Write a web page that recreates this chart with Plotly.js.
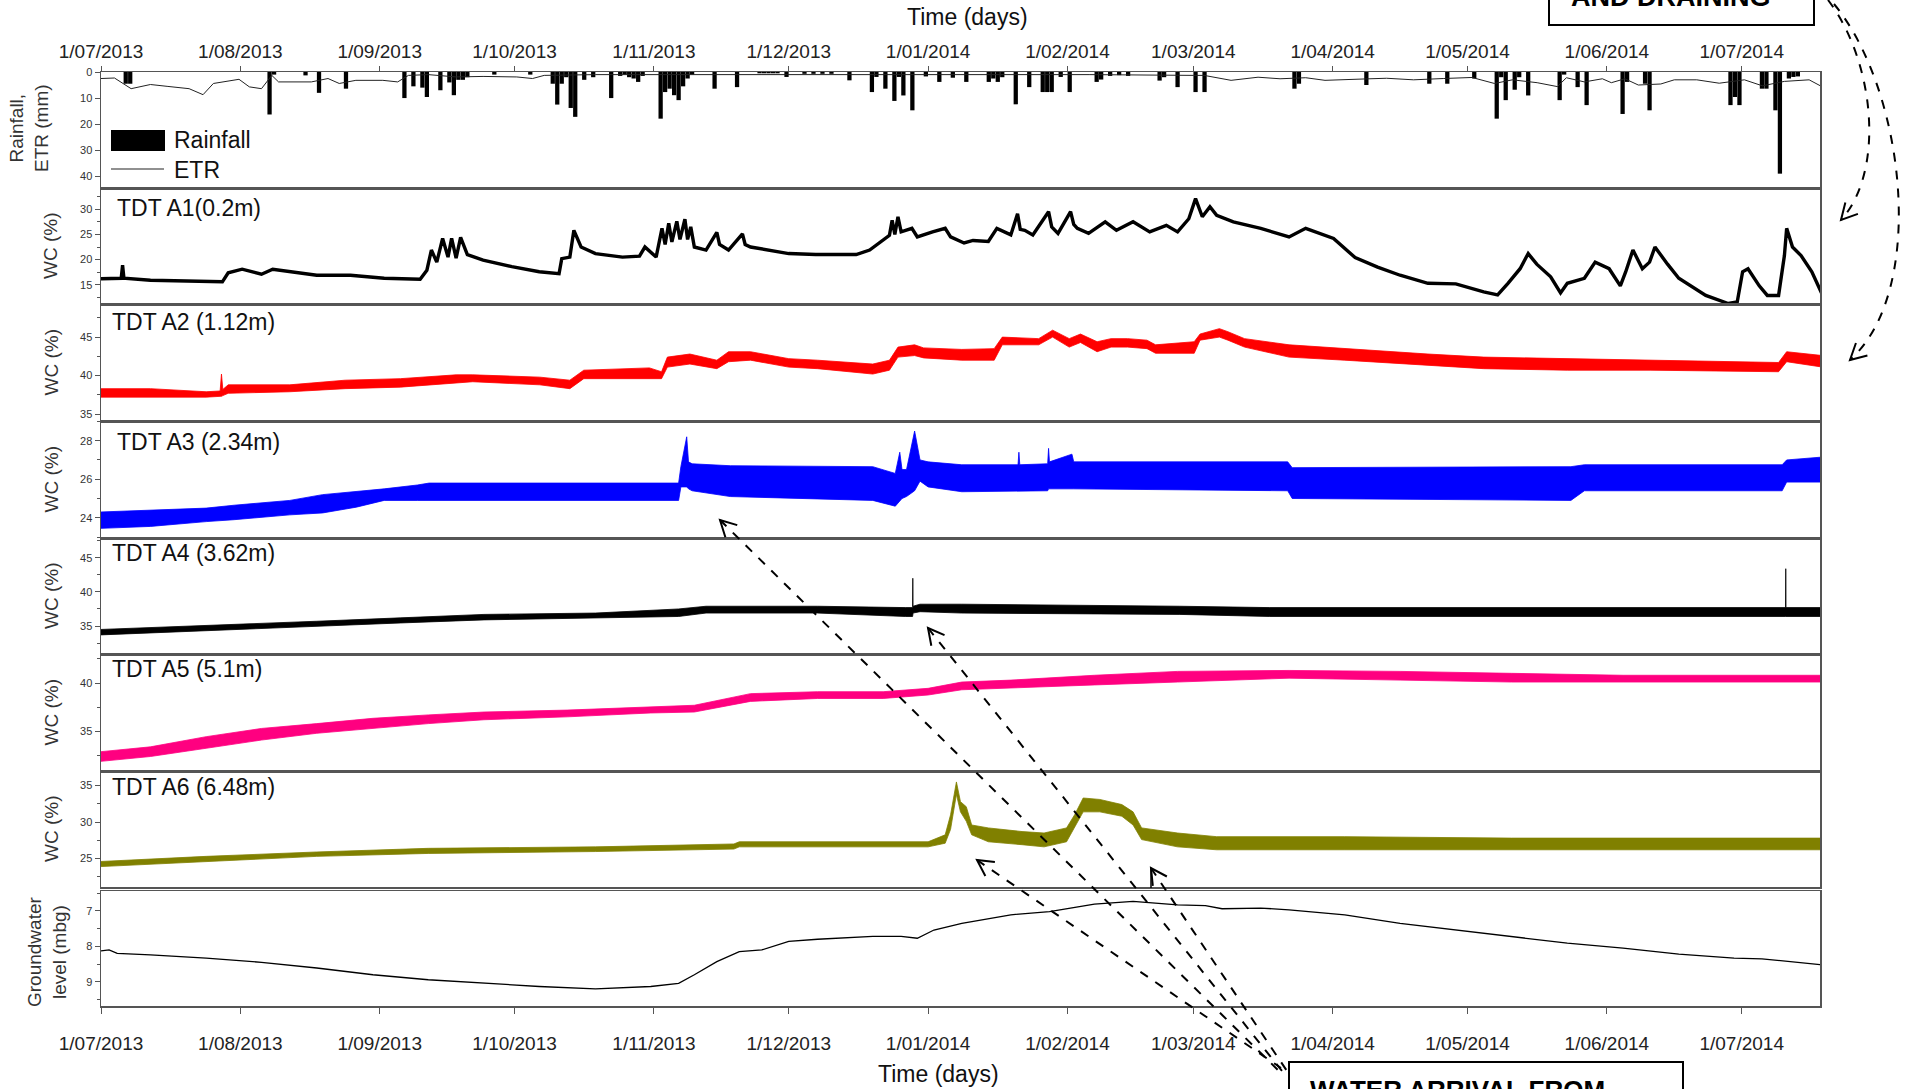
<!DOCTYPE html>
<html><head><meta charset="utf-8">
<script src="https://cdn.plot.ly/plotly-3.0.1.min.js"></script>
<style>html,body{margin:0;padding:0;background:#fff}#chart{width:1913px;height:1089px}</style>
</head><body><div id="chart"></div>
<script>
// ---------- DATA (time in days since 1/07/2013) ----------
const startDate = '2013-07-01';
const endDate = '2014-07-18 10:00';

const rainDay = [5,6,37,38,45,48,54,67,69,71,72,75,77,78,79,80,81,87,95,100,101,102,103,104,105,107,109,113,115,116,117,118,119,120,124,125,126,127,128,129,130,131,136,141,146,147,148,149,150,152,156,158,160,162,166,171,172,174,176,177,178,180,183,186,189,192,197,198,199,200,203,206,209,210,211,213,215,221,222,224,226,228,235,236,239,243,245,265,266,281,295,299,305,310,311,312,314,315,317,324,325,328,330,338,339,343,344,362,363,364,369,370,372,373,375,376,377];
const rainMm = [4.5,4.5,16.3,1.0,1.3,8.0,6.4,10.0,5.5,6.0,9.6,7.0,4.0,8.9,3.0,3.0,2.0,1.0,1.0,4.5,12.5,4.5,2.0,13.8,17.2,3.0,2.0,10.0,1.5,1.0,2.0,2.5,3.8,1.5,17.9,7.7,6.4,8.9,10.8,5.5,2.5,1.0,6.4,5.8,0.5,0.5,0.5,0.5,0.5,1.9,0.7,0.7,0.7,0.7,3.2,7.7,1.9,6.4,11.1,1.9,9.0,14.7,1.7,3.8,2.2,3.8,3.8,2.5,3.8,2.0,12.4,5.8,7.7,7.7,7.7,1.9,7.7,3.8,2.9,1.5,1.2,1.5,3.3,2.0,5.8,7.7,7.7,6.4,4.5,5.0,4.5,4.5,2.5,17.9,2.0,10.8,6.8,2.0,9.0,10.8,1.0,5.8,12.7,16.1,3.8,4.5,14.7,12.7,9.6,12.7,6.4,6.4,14.7,39.0,2.5,1.9,1.7];

const etrDay = [0,3,6.7,11,14.7,19.6,22.7,25,30.7,33,35.7,38,39.5,46.8,50.5,53,56.7,62.7,66,68.4,72.8,79,85,92.5,96,98.6,110,130,160,190,220,243,245.4,251.4,257.4,262.3,268,272.3,278.3,282.3,286,292,298.6,305,310,314,319.5,324,326,330,334,336,339,342,347,350,355,360,365.6,369.6,374.5,380,382.5];
const etrMm = [2.5,2.3,6.4,4.8,5.5,6.4,8.7,4.4,2.8,5.7,6.4,1.3,3.8,3.8,2.5,4.4,3.2,3.2,3.8,1.3,1.0,1.9,1.7,1.9,2.5,1.3,1.0,1.0,1.0,1.1,1.0,1.3,1.3,3.2,2.0,2.6,2.2,3.2,3.0,2.6,2.4,3.0,2.5,2.1,4.4,3.0,4.1,5.6,2.2,3.8,2.6,4.1,2.6,5.0,4.6,3.0,3.0,4.3,3.0,5.3,3.6,3.0,5.3];

const a1Day = [0,4.5,4.8,5.1,11,27,28.3,31.4,35.7,38.2,48,55.5,63,71,72.5,73.5,74.7,76,77.2,78,79,80,81.5,85,91.4,97.5,101.9,102.5,104.3,105.2,106.8,110,116,119.8,121,123.5,124.8,125.5,126.3,127,128.1,128.8,129.9,130.5,131.2,132,134.6,137,137.6,139.6,142.7,143.3,144.5,153,159,168,171,175.4,176,176.6,177.3,178,180.4,181.6,185,187.8,189,192,194,197.4,199.3,202.4,203.9,204.5,205.5,207.3,210.8,211.5,212.9,215.7,216.4,217.2,219.7,223.4,225.9,229.6,233.3,237,239.5,242,243.5,245,246.7,248.2,251.9,258,264.3,268,274.2,279,284,289,295.2,301.4,307.6,310.7,313,315.7,317.5,319.4,322.5,324.7,326.2,330,332.4,335.5,338,339.2,340.8,342.9,344.5,345.7,348.5,351,357,362,364,365.2,366.4,368.9,370.7,373.2,374.5,375,376.3,378.2,380.6,383];
const a1WC = [16.2,16.3,18.9,16.3,15.9,15.6,17.4,18.1,17.1,18.1,16.9,16.9,16.3,16.1,17.9,21.9,19.5,24.2,20.5,24.2,20.3,24.4,21.0,19.9,18.6,17.6,17.2,20.2,20.5,25.8,22.5,21.2,20.5,20.7,22.5,20.5,26.2,23.0,27.2,23.5,27.6,24.0,28.0,24.0,26.5,22.5,21.9,25.4,23.0,21.9,25.1,23.0,22.5,21.2,21.0,21.0,21.9,24.8,27.8,25.0,28.5,25.5,26.2,24.5,25.5,26.2,24.5,23.3,23.8,23.6,26.2,24.9,29.1,26.0,25.8,24.9,29.5,26.5,25.2,29.5,27.0,26.2,25.2,27.5,25.8,27.5,25.5,26.8,25.5,28.1,32.1,28.5,30.5,28.8,27.5,26.2,24.5,26.2,24.2,20.4,18.5,16.9,15.3,15.2,13.6,13.0,15.3,18.2,21.2,19.1,16.6,13.4,15.3,16.3,19.5,18.2,14.8,17.6,21.9,18.2,19.5,22.5,19.1,16.3,12.9,11.3,11.6,17.6,18.2,14.8,12.9,12.9,20.8,26.2,22.5,20.8,17.6,12.9];

const a2Day = [0,11,23.4,26.5,26.8,27.1,28.3,42,54.3,66.6,79,82.7,97.6,104.3,107.4,122,124.7,126,131,137,139.6,144.5,153,159.4,171.7,175.4,177.3,181,183,191.5,198.7,200.5,208.6,211.7,215.4,217.9,221.6,224.7,228.4,232.7,234.6,243.2,244.5,248.8,250.7,254.4,264.3,276.7,295.2,307.6,326.2,344.8,373.2,375,383];
const a2Low = [37.2,37.2,37.2,37.3,37.3,37.4,37.7,37.9,38.3,38.5,39.0,39.2,38.8,38.3,39.6,39.6,39.6,41.1,41.5,40.9,41.8,42.0,41.1,40.9,40.2,40.7,42.4,42.6,42.3,42.0,42.0,44.0,44.0,45.0,43.7,44.3,43.1,43.7,43.7,43.5,42.9,42.9,44.6,45.0,44.6,43.7,42.4,42.0,41.3,40.9,40.7,40.7,40.5,41.8,41.1];
const a2High = [38.3,38.3,37.9,38.0,40.2,38.2,38.8,38.8,39.4,39.6,40.1,40.1,39.8,39.4,40.7,41.0,40.5,42.4,42.8,42.0,43.1,43.1,42.2,42.0,41.5,42.0,43.7,44.0,43.6,43.4,43.5,45.0,44.8,45.9,44.8,45.4,44.4,44.8,44.8,44.6,44.0,44.4,45.4,46.1,45.7,44.8,44.0,43.5,42.8,42.4,42.2,42.0,41.7,43.1,42.6];

const a3Day = [0,11,23.4,29.6,42,49.3,56.8,63,70.4,73,128.5,129,130.3,130.7,131.5,140,171.7,176.7,177.7,178.2,179.2,181,182.2,184,191.5,204,204.2,204.4,210.6,210.8,211,216,216.4,264,265,327,330,374,375,383];
const a3Low = [23.45,23.55,23.8,23.9,24.15,24.25,24.55,24.9,24.9,24.9,24.9,25.6,25.6,25.5,25.4,25.1,24.9,24.6,24.9,25.0,25.1,25.4,25.9,25.6,25.35,25.4,25.4,25.4,25.4,25.5,25.5,25.5,25.5,25.4,25.0,24.9,25.4,25.4,25.85,25.85];
const a3High = [24.3,24.4,24.5,24.65,24.9,25.2,25.35,25.5,25.7,25.8,25.8,26.65,28.2,26.9,26.8,26.7,26.65,26.3,27.4,26.5,26.5,28.5,27.0,26.9,26.75,26.75,27.4,26.75,26.8,27.6,26.9,27.3,26.9,26.9,26.6,26.65,26.75,26.75,27.0,27.15];

const a4Day = [0,11,29.6,48,66.7,85.2,110,128.5,134.6,159.4,179,180.55,180.6,180.65,182.2,191.5,240,260,374.75,374.8,374.85,383];
const a4Low = [33.7,34.0,34.5,34.95,35.45,35.9,36.16,36.4,36.9,36.9,36.4,36.4,36.6,36.9,37.1,36.9,36.7,36.4,36.4,36.4,36.4,36.4];
const a4High = [34.5,34.75,35.25,35.7,36.2,36.7,36.9,37.5,37.9,37.9,37.7,37.7,42.0,37.9,38.2,38.2,37.9,37.7,37.7,43.4,37.7,37.7];

const a5Day = [0,11,23.4,35.7,48,60.5,72.8,85.2,103.7,122.3,132,144.5,159.4,174,184,191.5,202.4,221,239.5,264.3,289,313.8,338.6,383];
const a5Low = [31.9,32.4,33.25,34.1,34.8,35.3,35.8,36.2,36.5,36.9,37.0,38.1,38.4,38.4,38.76,39.3,39.5,39.8,40.1,40.5,40.3,40.1,40.1,40.1];
const a5High = [32.9,33.4,34.45,35.3,35.8,36.35,36.7,37.0,37.2,37.55,37.7,38.9,39.1,39.1,39.45,40.1,40.3,40.8,41.2,41.3,41.2,41.0,40.8,40.8];

const a6Day = [0,23.4,48,72.8,110,140.8,142,184,187.8,189,190.3,191.2,192.5,193.7,197.4,204.9,209.8,214.8,216.6,218.5,222.2,227.1,229.6,231.5,239.5,248.2,276.7,313.8,383];
const a6Low = [23.9,24.6,25.3,25.7,25.96,26.3,26.6,26.6,27.1,29.0,33.8,31.4,30.1,28.25,27.3,26.9,26.6,27.3,29.2,31.4,31.4,30.8,29.6,27.6,26.6,26.2,26.2,26.2,26.2];
const a6High = [24.6,25.3,25.9,26.4,26.6,27.0,27.3,27.3,28.25,31.0,35.5,32.8,32.1,29.6,29.2,28.7,28.5,29.2,31.0,33.3,33.1,32.4,31.4,29.2,28.5,28.0,28.0,27.8,27.8];

const gwDay = [0,1.8,3.6,11,23.4,35.7,48,60.5,72.8,85.2,97.5,110,116,122.3,128.5,132,137,142,147,153,159.4,171.7,178,181.6,185.3,191.5,202.4,211,221,229.6,239.5,245.7,249.4,258,264.3,276.7,289,301.4,313.8,326.2,338.6,351,363.3,369.5,383];
const gwLevel = [8.13,8.1,8.2,8.24,8.33,8.45,8.61,8.8,8.94,9.04,9.13,9.2,9.17,9.13,9.04,8.8,8.43,8.15,8.1,7.86,7.8,7.72,7.72,7.77,7.54,7.35,7.11,7.02,6.81,6.73,6.83,6.85,6.94,6.92,6.97,7.11,7.35,7.54,7.72,7.91,8.05,8.22,8.33,8.35,8.52];

const panelLabels = ['TDT A1(0.2m)','TDT A2 (1.12m)','TDT A3 (2.34m)','TDT A4 (3.62m)','TDT A5 (5.1m)','TDT A6 (6.48m)'];

// ---------- helpers ----------
const T0 = Date.UTC(2013,6,1), DAY = 86400000;
const toDate = d => new Date(T0 + d*DAY).toISOString().replace('T',' ').slice(0,19);
const dates = arr => arr.map(toDate);

const W=1913, H=1089, L=101, R=1820, TOP=72, BOT=1006;
const px = x => (x-L)/(R-L);
const py = y => (BOT-y)/(BOT-TOP);
const panels = [[72,188],[188,304],[304,421],[421,538],[538,654],[654,771],[771,887],[891,1006]];

const FONT = 'Arial, "Liberation Sans", Helvetica, sans-serif';

// ---------- traces ----------
const data = [];
data.push({type:'bar', x: rainDay.map(d=>toDate(d+0.5)), y: rainMm, width: DAY*0.95,
  marker:{color:'#000', line:{width:0}}, xaxis:'x', yaxis:'y', hoverinfo:'skip'});
data.push({type:'scatter', mode:'lines', x: dates(etrDay), y: etrMm,
  line:{color:'#222', width:1}, xaxis:'x', yaxis:'y'});
data.push({type:'scatter', mode:'lines', x: dates(a1Day), y: a1WC,
  line:{color:'#000', width:3.4}, xaxis:'x2', yaxis:'y2'});

function band(days, lo, hi, color, xa, ya){
  data.push({type:'scatter', mode:'lines', x: dates(days), y: lo, line:{color, width:0.8}, xaxis:xa, yaxis:ya});
  data.push({type:'scatter', mode:'lines', x: dates(days), y: hi, line:{color, width:0.8}, fill:'tonexty', fillcolor:color, xaxis:xa, yaxis:ya});
}
band(a2Day, a2Low, a2High, '#ff0000', 'x3', 'y3');
band(a3Day, a3Low, a3High, '#0000ff', 'x4', 'y4');
band(a4Day, a4Low, a4High, '#000000', 'x5', 'y5');
band(a5Day, a5Low, a5High, '#ff0080', 'x6', 'y6');
band(a6Day, a6Low, a6High, '#808000', 'x7', 'y7');
data.push({type:'scatter', mode:'lines', x: dates(gwDay), y: gwLevel,
  line:{color:'#000', width:1.3}, xaxis:'x8', yaxis:'y8'});

// ---------- layout ----------
const layout = {
  width: W, height: H, autosize:false, showlegend:false,
  margin:{l:L, r:W-R, t:TOP, b:H-BOT, pad:0},
  paper_bgcolor:'#fff', plot_bgcolor:'#fff',
  font:{family:FONT, color:'#222'},
  annotations:[], shapes:[]
};
const line = {showline:true, linecolor:'#555', linewidth:1.5, mirror:true, zeroline:false, showgrid:false};
const yInfo = [
  {range:[44.5,0], tickvals:[0,10,20,30,40]},
  {range:[11.2,34.2], dtick:5, tick0:0, minor:2.5},
  {range:[34.1,49.3], dtick:5, tick0:0, minor:2.5},
  {range:[22.95,29.02], dtick:2, tick0:0, minor:1},
  {range:[30.9,47.9], dtick:5, tick0:0, minor:2.5},
  {range:[30.9,43.0], dtick:5, tick0:0, minor:2.5},
  {range:[21.1,37.0], dtick:5, tick0:0, minor:2.5},
  {range:[9.68,6.44], dtick:1, tick0:0, minor:0.5}
];
for (let i=0;i<8;i++){
  const k = i===0 ? '' : String(i+1);
  const [top,bot] = panels[i];
  const xa = Object.assign({}, line, {
    type:'date', range:[startDate, endDate], anchor:'y'+k, dtick:'M1', tick0:startDate,
    tickformat:'%-d/%m/%Y', tickfont:{size:19, family:FONT, color:'#222'},
    ticks:'', showticklabels:false, fixedrange:true
  });
  if (i>0) xa.matches = 'x';
  if (i===0){ xa.side='top'; xa.ticks='outside'; xa.ticklen=5; xa.tickcolor='#555'; xa.showticklabels=true; }
  if (i===7){ xa.side='bottom'; xa.ticks='outside'; xa.ticklen=6; xa.tickcolor='#555'; xa.showticklabels=true; xa.ticklabelstandoff=14; }
  layout['xaxis'+k] = xa;
  const yi = yInfo[i];
  const ya = Object.assign({}, line, {
    domain:[py(bot), py(top)], anchor:'x'+k, range:yi.range, ticks:'outside', ticklen:5, tickcolor:'#555',
    tickfont:{size:11, family:FONT, color:'#333'}, fixedrange:true
  });
  if (yi.tickvals){ ya.tickmode='array'; ya.tickvals=yi.tickvals; }
  else { ya.dtick=yi.dtick; ya.tick0=yi.tick0; }
  if (yi.minor) ya.minor = {dtick:yi.minor, ticks:'outside', ticklen:3, tickcolor:'#555'};
  layout['yaxis'+k] = ya;
}

const ann = (text, x, y, o={}) => layout.annotations.push(Object.assign({
  text, x:px(x), y:py(y), xref:'paper', yref:'paper', showarrow:false,
  xanchor:'center', yanchor:'middle', font:{family:FONT, size:19, color:'#333'}}, o));

// axis titles
ann('Rainfall,<br>ETR (mm)', 29, 128, {textangle:-90});
for (let i=1;i<=6;i++) ann('WC (%)', 51, (panels[i][0]+panels[i][1])/2, {textangle:-90});
ann('Groundwater<br>level (mbg)', 47, 952, {textangle:-90});
ann('Time (days)', 968, 17, {font:{family:FONT,size:23,color:'#111'}});
ann('Time (days)', 938, 1074, {font:{family:FONT,size:23,color:'#111'}});

// panel labels
const labX = [115,110,115,110,110,110], labY = [208,322,442,553,669,787];
panelLabels.forEach((t,i)=>ann(t, labX[i], labY[i], {xanchor:'left', font:{family:FONT,size:23,color:'#111'}}));

// legend (rainfall panel)
layout.shapes.push({type:'rect', xref:'paper', yref:'paper', x0:px(111), x1:px(165), y0:py(151), y1:py(130), fillcolor:'#000', line:{width:0}});
layout.shapes.push({type:'line', xref:'paper', yref:'paper', x0:px(111), x1:px(164), y0:py(169), y1:py(169), line:{color:'#222', width:1.2}});
ann('Rainfall', 172, 140, {xanchor:'left', font:{family:FONT,size:23,color:'#111'}});
ann('ETR', 172, 170, {xanchor:'left', font:{family:FONT,size:23,color:'#111'}});

// callout boxes (cut by the page edge as in the source figure)
layout.shapes.push({type:'rect', xref:'paper', yref:'paper', x0:px(1549), x1:px(1814), y0:py(25), y1:py(-30), fillcolor:'#fff', line:{color:'#000', width:2}});
ann('<b>AND DRAINING</b>', 1671, -3, {font:{family:FONT,size:27,color:'#000'}});
layout.shapes.push({type:'rect', xref:'paper', yref:'paper', x0:px(1289), x1:px(1683), y0:py(1130), y1:py(1062), fillcolor:'#fff', line:{color:'#000', width:2}});
ann('<b>WATER ARRIVAL FROM</b>', 1308, 1090, {xanchor:'left', font:{family:FONT,size:26,color:'#000'}});

// dashed arrows
const P = (x,y) => `${px(x)},${py(y)}`;
function head(tip, back){
  const dx = back[0]-tip[0], dy = back[1]-tip[1], n = Math.hypot(dx,dy);
  const ux = dx/n, uy = dy/n, a = 28*Math.PI/180, len = 18;
  const w = s => [tip[0] + len*(ux*Math.cos(s*a) - uy*Math.sin(s*a)), tip[1] + len*(ux*Math.sin(s*a) + uy*Math.cos(s*a))];
  const w1 = w(1), w2 = w(-1);
  layout.shapes.push({type:'path', xref:'paper', yref:'paper', path:`M${P(w1[0],w1[1])} L${P(tip[0],tip[1])} L${P(w2[0],w2[1])}`, line:{color:'#000', width:2}});
}
const tips = [[720,520],[928,628],[977,860],[1151,868]];
const tails = [[1283,1075],[1286,1076],[1281,1068],[1291,1077]];
tips.forEach((t,i)=>{
  layout.shapes.push({type:'line', xref:'paper', yref:'paper', x0:px(t[0]), y0:py(t[1]), x1:px(tails[i][0]), y1:py(tails[i][1]), line:{color:'#000', width:2, dash:'dash'}});
  head(t, tails[i]);
});
layout.shapes.push({type:'line', xref:'paper', yref:'paper', x0:px(1151), y0:py(868), x1:px(1151), y1:py(888), line:{color:'#000', width:1.5}});

// curved arrows (top right)
layout.shapes.push({type:'path', xref:'paper', yref:'paper', path:`M${P(1828,0)} C${P(1874,60)} ${P(1886,170)} ${P(1841,220)}`, line:{color:'#000', width:2, dash:'dash'}});
head([1841,220],[1886,170]);
layout.shapes.push({type:'path', xref:'paper', yref:'paper', path:`M${P(1834,4)} C${P(1905,90)} ${P(1928,290)} ${P(1850,360)}`, line:{color:'#000', width:2, dash:'dash'}});
head([1850,360],[1915,300]);

Plotly.newPlot('chart', data, layout, {displayModeBar:false, staticPlot:true});
</script>
</body></html>
